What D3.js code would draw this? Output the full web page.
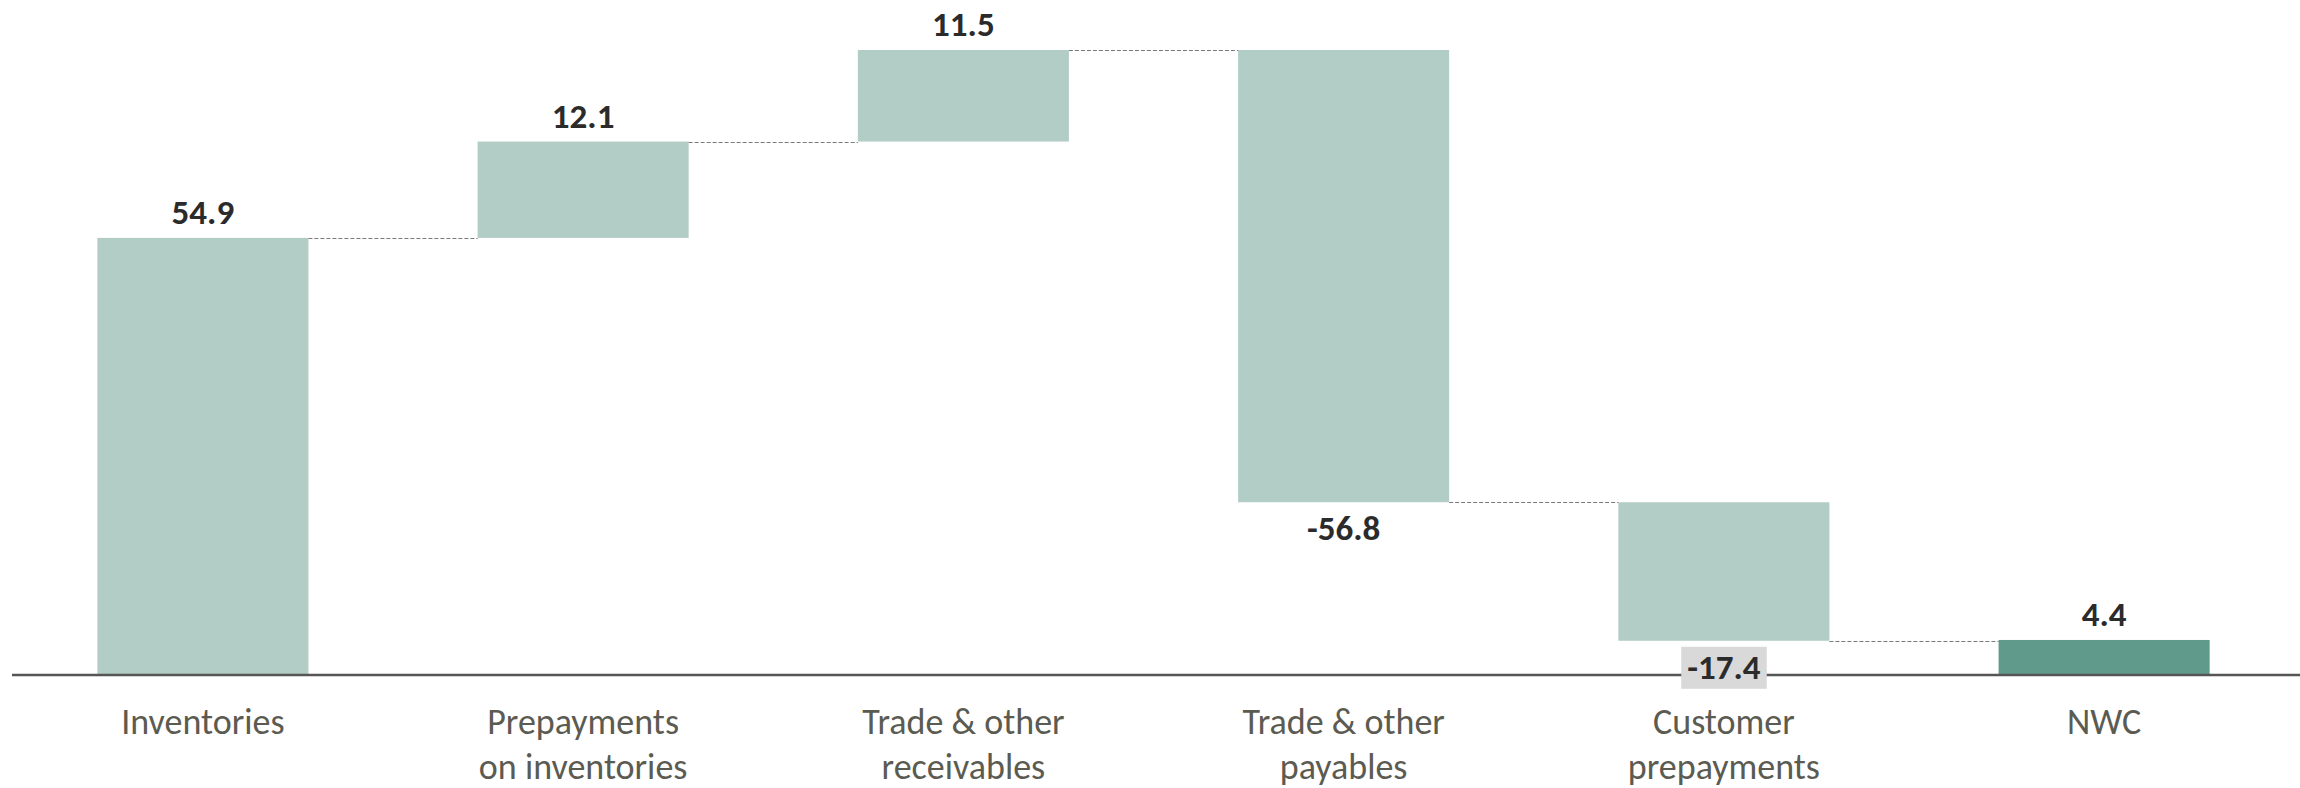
<!DOCTYPE html>
<html>
<head>
<meta charset="utf-8">
<script src="https://cdn.jsdelivr.net/npm/d3@7"></script>
<style>
    html, body { margin: 0; padding: 0; background: #fff; }
    svg { display: block; }
    .cat-label { font-family: Carlito, Lato, "Liberation Sans Narrow", sans-serif; font-size: 36px; fill: #5b5b52; }
    .val-label { font-family: Carlito, Lato, "Liberation Sans Narrow", sans-serif; font-size: 35px; font-weight: bold; fill: #2b2b2b; }
</style>
</head>
<body>
<div id="chart"></div>
<script>
    // waterfall data
    var categories = [
        ["Inventories"],
        ["Prepayments", "on inventories"],
        ["Trade & other", "receivables"],
        ["Trade & other", "payables"],
        ["Customer", "prepayments"],
        ["NWC"]
    ];
    var values = [54.9, 12.1, 11.5, -56.8, -17.4, 4.4];
    var isTotal = [false, false, false, false, false, true];

    var width = 2300, height = 788;
    var axisY = 675;

    // running totals
    var steps = [];
    var running = 0;
    values.forEach(function(v, i) {
        if (isTotal[i]) {
            steps.push({ i: i, start: 0, end: v, value: v, total: true });
            running = v;
        } else {
            steps.push({ i: i, start: running, end: running + v, value: v, total: false });
            running += v;
        }
    });

    var maxY = d3.max(steps, function(d) { return Math.max(d.start, d.end); });

    var x = d3.scaleBand()
        .domain(d3.range(categories.length))
        .range([8, 2299])
        .paddingInner(0.445)
        .paddingOuter(0.235);

    var y = d3.scaleLinear()
        .domain([0, maxY])
        .range([axisY, 50]);

    var fmt = function(v) { return d3.format(".1f")(v).replace("\u2212", "-"); };

    var svg = d3.select("#chart").append("svg")
        .attr("width", width)
        .attr("height", height);

    // bars
    svg.selectAll("rect.bar")
        .data(steps)
        .enter()
        .append("rect")
        .attr("class", "bar")
        .attr("x", function(d) { return x(d.i); })
        .attr("width", x.bandwidth())
        .attr("y", function(d) { return y(Math.max(d.start, d.end)); })
        .attr("height", function(d) { return Math.abs(y(d.start) - y(d.end)); })
        .attr("fill", function(d) { return d.total ? "#5f9a8b" : "#b2cdc5"; });

    // connectors
    svg.selectAll("line.conn")
        .data(steps.slice(0, -1))
        .enter()
        .append("line")
        .attr("class", "conn")
        .attr("x1", function(d) { return x(d.i) + x.bandwidth(); })
        .attr("x2", function(d) { return x(d.i + 1); })
        .attr("y1", function(d) { return Math.round(y(d.end)) + 0.5; })
        .attr("y2", function(d) { return Math.round(y(d.end)) + 0.5; })
        .attr("stroke", "#7a7a7a")
        .attr("stroke-width", 1.2)
        .attr("stroke-dasharray", "4,2");

    // axis line
    svg.append("line")
        .attr("x1", 12)
        .attr("x2", width)
        .attr("y1", axisY)
        .attr("y2", axisY)
        .attr("stroke", "#555")
        .attr("stroke-width", 2.5);

    // value labels
    var labels = svg.selectAll("g.val")
        .data(steps)
        .enter()
        .append("g")
        .attr("class", "val");

    labels.each(function(d) {
        var g = d3.select(this);
        var cx = x(d.i) + x.bandwidth() / 2;
        var by;
        if (d.value >= 0) {
            by = y(Math.max(d.start, d.end)) - 14;
        } else {
            by = y(Math.min(d.start, d.end)) + 38;
        }
        var txt = g.append("text")
            .attr("class", "val-label")
            .attr("x", cx)
            .attr("y", by)
            .attr("text-anchor", "middle")
            .text(fmt(d.value));
        // label sits on the axis line -> give it a grey box
        if (by > axisY - 10) {
            var bb = txt.node().getBBox();
            g.insert("rect", "text")
                .attr("x", bb.x - 6)
                .attr("y", by - 32)
                .attr("width", bb.width + 12)
                .attr("height", 42)
                .attr("fill", "#d9d9d9");
        }
    });

    // category labels
    svg.selectAll("text.cat-label")
        .data(categories)
        .enter()
        .append("text")
        .attr("class", "cat-label")
        .attr("text-anchor", "middle")
        .attr("x", function(d, i) { return x(i) + x.bandwidth() / 2; })
        .attr("y", 734)
        .selectAll("tspan")
        .data(function(d) { return d; })
        .enter()
        .append("tspan")
        .attr("x", function() { return d3.select(this.parentNode).attr("x"); })
        .attr("dy", function(d, j) { return j === 0 ? 0 : 45; })
        .text(function(d) { return d; });
</script>
</body>
</html>
